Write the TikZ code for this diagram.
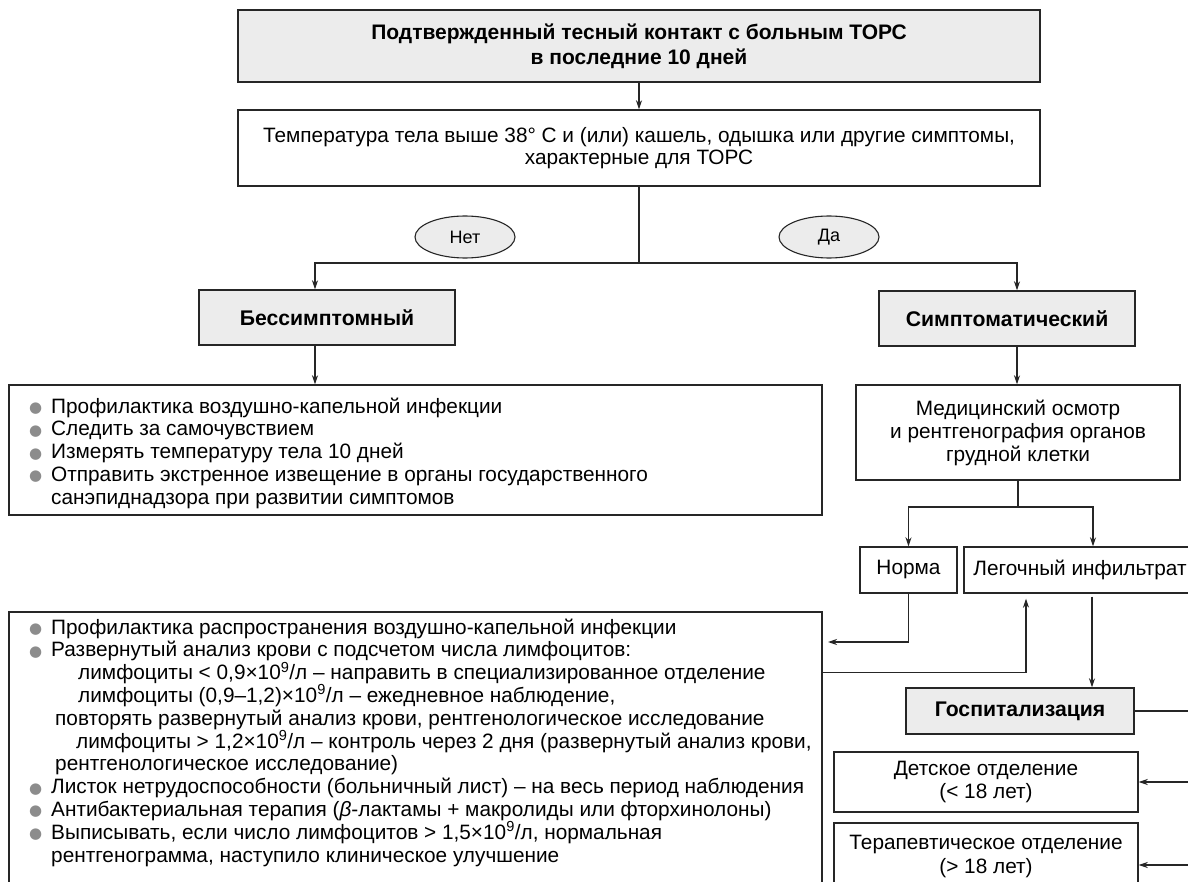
\documentclass[tikz,border=0pt]{standalone}
\usepackage{fontspec}
\setmainfont{Liberation Sans}
\newfontfamily\symfont{DejaVu Sans}
\usetikzlibrary{arrows.meta,shapes.geometric}
\definecolor{boxgray}{HTML}{ECECEC}
\definecolor{bulgray}{HTML}{8C8C8C}
\definecolor{ln}{HTML}{262626}
\newcommand\fs{\fontsize{20.8}{23}\selectfont}
\newcommand\bul{\makebox[22pt][l]{\raisebox{0.5pt}{\symfont\fontsize{15}{15}\selectfont\textcolor{bulgray}{●}}}}
\newcommand\nine{\textsuperscript{9}}
\newcommand\listfont{\fontsize{20.8}{22.8}\selectfont\lineskiplimit=-100pt\relax}
\begin{document}
\begin{tikzpicture}[x=1pt,y=-1pt,
  box/.style={draw=ln, line width=1.4pt, inner sep=0pt, align=center, font=\fs},
  gbox/.style={box, fill=boxgray, font=\fontsize{21.2}{23}\selectfont\bfseries},
  oval/.style={ellipse, draw=ln, line width=1.1pt, fill=boxgray, inner sep=0pt, font=\fontsize{18}{20}\selectfont},
  conn/.style={draw=ln, line width=1.2pt},
  arr/.style={conn, -{Stealth[length=9pt,width=6pt]}},
  txt/.style={inner sep=0pt, anchor=base west},
]
\useasboundingbox (0,0) rectangle (1188,882);
\fill[white] (0,0) rectangle (1188,882);
\clip (0,0) rectangle (1188,882);

% boxes
\node[gbox, minimum width=802pt, minimum height=72pt, font=\fontsize{21}{25}\selectfont\bfseries] (top) at (639,46)
  {Подтвержденный тесный контакт с больным ТОРС\\в последние 10 дней};
\node[box, minimum width=802pt, minimum height=76pt, font=\fontsize{20.8}{22}\selectfont] (cond) at (639,148)
  {Температура тела выше 38° С и (или) кашель, одышка или другие симптомы,\\характерные для ТОРС};
\node[oval, minimum width=100pt, minimum height=42pt] (no) at (465,237) {Нет};
\node[oval, minimum width=100pt, minimum height=42pt] (yes) at (829,237) {Да};
\node[gbox, minimum width=256pt, minimum height=55pt] (asym) at (327,317.5) {Бессимптомный};
\node[gbox, minimum width=256pt, minimum height=55pt] (sym) at (1007,318.5) {Симптоматический};
\node[box, minimum width=813pt, minimum height=130pt] (list1) at (415.5,450) {};
\node[box, minimum width=324pt, minimum height=95pt, font=\fontsize{20.8}{23}\selectfont] (med) at (1018,432.5)
  {Медицинский осмотр\\и рентгенография органов\\грудной клетки};
\node[box, minimum width=97pt, minimum height=46pt] (norma) at (908.5,570) {Норма};
\node[box, minimum width=232pt, minimum height=46pt] (leg) at (1080,570) {Легочный инфильтрат};
\node[box, minimum width=813pt, minimum height=300pt] (list2) at (415.5,762) {};
\node[gbox, minimum width=228pt, minimum height=46pt] (hosp) at (1020,711) {Госпитализация};
\node[box, minimum width=304pt, minimum height=60pt] (child) at (986,782) {Детское отделение\\(< 18 лет)};
\node[box, minimum width=304pt, minimum height=66pt, font=\fontsize{20.8}{24}\selectfont] (ther) at (986,856)
  {Терапевтическое отделение\\(> 18 лет)};

% list texts
\node[txt] (list1txt) at (29,413) {\parbox[t]{1000pt}{\listfont
\bul Профилактика воздушно-капельной инфекции\\
\bul Следить за самочувствием\\
\bul Измерять температуру тела 10 дней\\
\bul Отправить экстренное извещение в органы государственного\\
\hspace*{22pt}санэпиднадзора при развитии симптомов}};
\node[txt] (list2txt) at (29,634) {\parbox[t]{1000pt}{\listfont
\bul Профилактика распространения воздушно-капельной инфекции\\
\bul Развернутый анализ крови с подсчетом числа лимфоцитов:\\
\hspace*{49pt}лимфоциты < 0,9×10\nine/л – направить в специализированное отделение\\
\hspace*{49pt}лимфоциты (0,9–1,2)×10\nine/л – ежедневное наблюдение,\\
\hspace*{26pt}повторять развернутый анализ крови, рентгенологическое исследование\\
\hspace*{47pt}лимфоциты > 1,2×10\nine/л – контроль через 2 дня (развернутый анализ крови,\\
\hspace*{26pt}рентгенологическое исследование)\\
\bul Листок нетрудоспособности (больничный лист) – на весь период наблюдения\\
\bul Антибактериальная терапия (\textit{β}-лактамы + макролиды или фторхинолоны)\\
\bul Выписывать, если число лимфоцитов > 1,5×10\nine/л, нормальная\\
\hspace*{22pt}рентгенограмма, наступило клиническое улучшение}};

% connectors
\draw[arr] (top.south) -- (cond.north);
\coordinate (split) at (639,263);
\draw[conn] (cond.south) -- (split);
\draw[arr] (split) -| ([xshift=-12pt]asym.north);
\draw[arr] (split) -| ([xshift=10pt]sym.north);
\draw[arr] ([xshift=-12pt]asym.south) -- ([xshift=-12pt]asym.south |- list1.north);
\draw[arr] ([xshift=10pt]sym.south) -- ([xshift=10pt]sym.south |- med.north);
\coordinate (split2) at (1018,507);
\draw[conn] (med.south) -- (split2);
\draw[arr] (split2) -| (norma.north);
\draw[arr] (split2) -| ([xshift=13pt]leg.north);
\coordinate (l2in) at (828,642);
\draw[arr] (norma.south) |- (l2in);
\draw[arr, shorten >=5pt] ([yshift=-61pt]list2.north east) -| ([xshift=-54pt]leg.south);
\draw[arr] ([xshift=12pt,yshift=-3pt]leg.south) -- ([xshift=12pt]leg.south |- hosp.north);
\coordinate (hr) at (1200,711);
\draw[conn] (hosp.east) -- (hr);
\draw[arr] (hr) |- (child.east);
\draw[arr] (hr) |- ([yshift=-9pt]ther.east);
\end{tikzpicture}
\end{document}
